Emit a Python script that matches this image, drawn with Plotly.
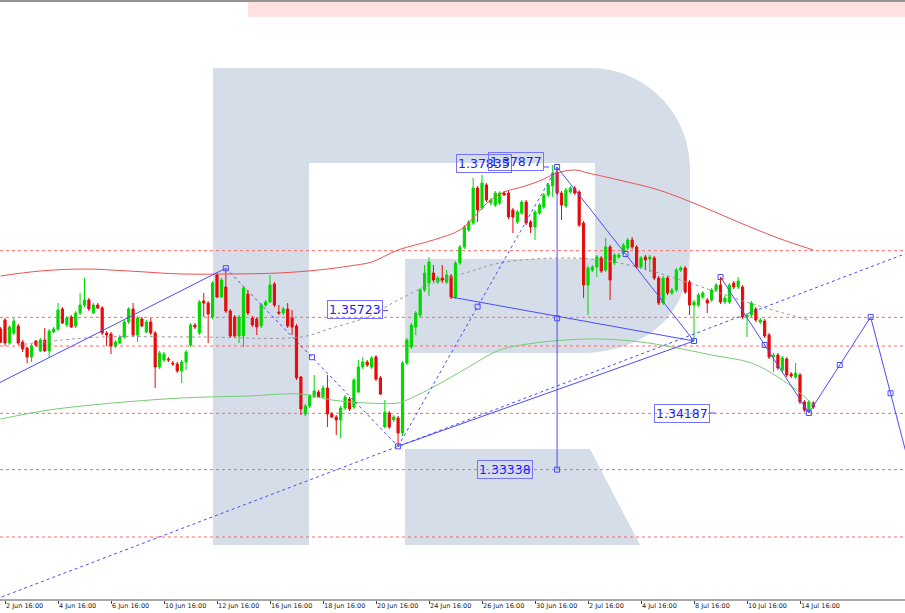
import plotly.graph_objects as go

W, H = 905, 613
MB = 14
PW, PH = W, H - MB

# ---------------- data ----------------
bar_idx = list(range(11, 196))

opens = [1.35447,1.35582,1.35237,1.35387,1.35492,1.35252,1.35162,1.35027,1.35267,1.35117,
1.35282,1.35117,1.35402,1.35447,1.35747,1.35507,1.35627,1.35492,1.35687,1.35807,
1.35882,1.35687,1.35807,1.35762,1.35387,1.35372,1.35192,1.35237,1.35327,1.35552,
1.35747,1.35357,1.35597,1.35402,1.35552,1.35387,1.34877,1.34982,1.34997,1.34937,
1.34922,1.34817,1.34952,1.35207,1.35507,1.35387,1.35867,1.35837,1.35627,1.36257,
1.35927,1.36077,1.35717,1.35627,1.35342,1.35342,1.35972,1.35612,1.35597,1.35492,
1.35807,1.35852,1.36122,1.35702,1.35687,1.35747,1.35612,1.35492,1.34727,1.34172,
1.34292,1.34427,1.34502,1.34427,1.34562,1.34172,1.34127,1.34082,1.34262,1.34397,
1.34277,1.34502,1.34877,1.34952,1.34877,1.35027,1.34712,1.33977,1.34187,1.34082,
1.34112,1.33887,1.34937,1.35177,1.35477,1.35657,1.36032,1.36137,1.36287,1.36152,
1.36212,1.36152,1.36242,1.35927,1.36437,1.36677,1.36932,1.37037,1.37562,1.37262,
1.37607,1.37337,1.37307,1.37337,1.37487,1.37487,1.37232,1.37052,1.37187,1.37352,
1.37052,1.36977,1.37187,1.37277,1.37457,1.37592,1.37802,1.37487,1.37292,1.37502,
1.37562,1.37502,1.37037,1.36107,1.36332,1.36377,1.36512,1.36332,1.36677,1.36437,
1.36527,1.36587,1.36662,1.36782,1.36677,1.36377,1.36527,1.36497,1.36512,1.36212,
1.35837,1.36212,1.35987,1.36032,1.36332,1.36362,1.36152,1.35807,1.35807,1.35927,
1.35882,1.35882,1.36032,1.36107,1.35852,1.35852,1.36137,1.36077,1.36077,1.35627,
1.35657,1.35747,1.35552,1.35567,1.35357,1.35027,1.35057,1.34832,1.34997,1.34772,
1.34727,1.34757,1.34352,1.34202,1.34337]

highs = [1.35477,1.35612,1.35507,1.35612,1.35522,1.35282,1.35177,1.35222,1.35282,1.35312,
1.35462,1.35447,1.35477,1.35837,1.35777,1.35642,1.35657,1.35717,1.35987,1.36212,
1.35912,1.35837,1.35837,1.35792,1.35417,1.35402,1.35282,1.35357,1.35582,1.35777,
1.35837,1.35642,1.35627,1.35582,1.35612,1.35417,1.35117,1.35102,1.35027,1.34967,
1.34952,1.34982,1.35132,1.35537,1.35537,1.35882,1.35987,1.35867,1.36167,1.36287,
1.36212,1.36362,1.35747,1.35657,1.35657,1.36092,1.36032,1.35642,1.35627,1.35837,
1.35882,1.36257,1.36152,1.35807,1.35777,1.35837,1.35732,1.35522,1.34742,1.34322,
1.34472,1.34757,1.34532,1.34607,1.34757,1.34202,1.34157,1.34292,1.34457,1.34427,
1.34712,1.34982,1.35027,1.34982,1.35042,1.35057,1.34742,1.34382,1.34217,1.34157,
1.34142,1.34967,1.35312,1.35537,1.35717,1.36062,1.36407,1.36527,1.36407,1.36242,
1.36407,1.36332,1.36272,1.36467,1.36707,1.37007,1.37082,1.37712,1.37592,1.37757,
1.37637,1.37412,1.37517,1.37517,1.37517,1.37517,1.37262,1.37232,1.37382,1.37382,
1.37082,1.37232,1.37337,1.37487,1.37637,1.37907,1.37877,1.37517,1.37562,1.37592,
1.37592,1.37532,1.37067,1.36392,1.36407,1.36557,1.36542,1.36812,1.36707,1.36587,
1.36587,1.36737,1.36812,1.36827,1.36707,1.36542,1.36557,1.36557,1.36542,1.36242,
1.36242,1.36242,1.36062,1.36362,1.36392,1.36392,1.36182,1.35882,1.35987,1.36017,
1.35912,1.36062,1.36137,1.36227,1.35942,1.36137,1.36167,1.36227,1.36107,1.35687,
1.35867,1.35777,1.35612,1.35597,1.35387,1.35087,1.35087,1.35042,1.35027,1.34802,
1.34937,1.34787,1.34382,1.34382,1.34367]

lows = [1.35237,1.35192,1.35207,1.35357,1.35207,1.35102,1.34937,1.34952,1.35177,1.35102,
1.35102,1.35012,1.35387,1.35417,1.35522,1.35477,1.35462,1.35462,1.35657,1.35777,
1.35717,1.35672,1.35747,1.35357,1.35192,1.35072,1.35162,1.35222,1.35297,1.35522,
1.35327,1.35252,1.35477,1.35387,1.35357,1.34562,1.34847,1.34952,1.34952,1.34892,
1.34787,1.34637,1.34832,1.35177,1.35447,1.35357,1.35627,1.35237,1.35597,1.35912,
1.35912,1.35687,1.35312,1.35312,1.35237,1.35177,1.35657,1.35477,1.35357,1.35462,
1.35777,1.35837,1.35777,1.35657,1.35657,1.35462,1.35357,1.34682,1.34157,1.34142,
1.34262,1.34412,1.34412,1.34412,1.33977,1.34112,1.33857,1.33812,1.34232,1.34217,
1.34247,1.34487,1.34847,1.34877,1.34847,1.34667,1.34457,1.33962,1.33947,1.34052,
1.33687,1.33842,1.34907,1.35147,1.35357,1.35627,1.36002,1.35942,1.36152,1.36122,
1.36137,1.36122,1.35897,1.35897,1.36407,1.36647,1.36902,1.37007,1.37052,1.37232,
1.37352,1.37307,1.37277,1.37307,1.37442,1.37097,1.36887,1.37022,1.37157,1.37007,
1.36887,1.36782,1.37157,1.37247,1.37427,1.37427,1.37457,1.37082,1.37262,1.37472,
1.37457,1.36977,1.35912,1.35657,1.36302,1.36227,1.36287,1.36302,1.35882,1.36407,
1.36497,1.36557,1.36632,1.36647,1.36347,1.36347,1.36332,1.36302,1.36182,1.35807,
1.35807,1.35957,1.35957,1.36002,1.36302,1.35972,1.35657,1.35267,1.35777,1.35897,
1.35687,1.35852,1.36002,1.35822,1.35822,1.35822,1.36047,1.36047,1.35597,1.35327,
1.35627,1.35552,1.35522,1.35312,1.34997,1.34802,1.34832,1.34802,1.34727,1.34712,
1.34697,1.34322,1.34202,1.34187,1.34247]

closes = [1.35252,1.35237,1.35477,1.35567,1.35237,1.35147,1.35027,1.35192,1.35207,1.35282,
1.35117,1.35417,1.35447,1.35732,1.35537,1.35612,1.35477,1.35687,1.35807,1.35882,
1.35747,1.35807,1.35762,1.35387,1.35357,1.35192,1.35252,1.35327,1.35552,1.35747,
1.35357,1.35612,1.35492,1.35552,1.35387,1.34877,1.35087,1.35072,1.34982,1.34922,
1.34817,1.34952,1.35102,1.35507,1.35477,1.35852,1.35837,1.35672,1.36137,1.35927,
1.36182,1.35717,1.35342,1.35342,1.35627,1.36062,1.35687,1.35507,1.35477,1.35807,
1.35852,1.36107,1.35807,1.35687,1.35747,1.35492,1.35477,1.34712,1.34247,1.34292,
1.34442,1.34517,1.34427,1.34562,1.34172,1.34127,1.34082,1.34262,1.34427,1.34247,
1.34682,1.34877,1.34952,1.34907,1.35012,1.34697,1.34472,1.34202,1.33977,1.34127,
1.33887,1.34937,1.35282,1.35507,1.35687,1.36032,1.36287,1.36452,1.36182,1.36212,
1.36182,1.36257,1.35927,1.36437,1.36677,1.36977,1.37052,1.37562,1.37232,1.37637,
1.37382,1.37382,1.37487,1.37487,1.37457,1.37127,1.37127,1.37202,1.37352,1.37037,
1.36977,1.37202,1.37307,1.37457,1.37607,1.37787,1.37487,1.37307,1.37532,1.37562,
1.37487,1.37007,1.36107,1.36362,1.36377,1.36527,1.36317,1.36677,1.36182,1.36557,
1.36557,1.36707,1.36782,1.36677,1.36377,1.36512,1.36482,1.36527,1.36212,1.35837,
1.36212,1.35987,1.36032,1.36332,1.36362,1.36002,1.35807,1.35852,1.35957,1.35987,
1.35837,1.36032,1.36107,1.35852,1.35912,1.36107,1.36077,1.36167,1.35627,1.35657,
1.35837,1.35582,1.35582,1.35342,1.35027,1.35057,1.34862,1.35012,1.34757,1.34742,
1.34787,1.34352,1.34232,1.34352,1.34277]

tick_idx = list(range(12, 193, 12))
tick_labels = ["2 Jun 16:00", "4 Jun 16:00", "6 Jun 16:00", "10 Jun 16:00", "12 Jun 16:00",
               "16 Jun 16:00", "18 Jun 16:00", "20 Jun 16:00", "24 Jun 16:00", "26 Jun 16:00",
               "30 Jun 16:00", "2 Jul 16:00", "4 Jul 16:00", "8 Jul 16:00", "10 Jul 16:00",
               "14 Jul 16:00"]

red_ma_x = [11, 20, 30, 40, 52, 63, 74, 83, 90, 95, 101, 109, 115, 118, 120, 122, 125, 129, 133,
            137, 141, 144, 151, 160, 169, 178, 187, 195]
red_ma_y = [1.36242, 1.36317, 1.36347, 1.36317, 1.36272, 1.36272, 1.36287, 1.36332, 1.36392,
            1.36452, 1.36632, 1.36782, 1.36932, 1.37112, 1.37262, 1.37382, 1.37502, 1.37577,
            1.37667, 1.37787, 1.37832, 1.37787, 1.37682, 1.37532, 1.37307, 1.37052, 1.36812, 1.36632]

green_ma_x = [11, 22, 34, 52, 67, 79, 86, 94, 101, 103, 109, 117, 124, 132, 139, 147, 156, 163,
              172, 181, 187, 192, 195]
green_ma_y = [1.34097, 1.34232, 1.34322, 1.34412, 1.34442, 1.34472, 1.34382, 1.34337, 1.34337,
              1.34382, 1.34577, 1.34877, 1.35132, 1.35237, 1.35282, 1.35297, 1.35252, 1.35177,
              1.35057, 1.34937, 1.34727, 1.34487, 1.34307]

gray_ma_x = [15, 25, 34, 56, 79, 86, 94, 101, 109, 117, 124, 132, 139, 147, 156, 167, 182, 194]
gray_ma_y = [1.35207, 1.35282, 1.35327, 1.35327, 1.35327, 1.35462, 1.35627, 1.35882, 1.36137,
             1.36302, 1.36437, 1.36497, 1.36512, 1.36482, 1.36362, 1.36137, 1.35807, 1.35582]

levels = [1.36622, 1.35622, 1.35192, 1.34182, 1.33338, 1.32327]

# zigzag pivots and projection
piv_x = [62, 101, 137, 137, 168, 174, 194, 208, 217]
piv_y = [1.36360, 1.33687, 1.37877, 1.33338, 1.35267, 1.36227, 1.34187, 1.35627, 1.33338]
# (from, to, dotted, midpoint marker)
segments = [(0, 1, True, True), (1, 2, True, True), (2, 3, False, True), (2, 4, False, True),
            (1, 4, False, False), (5, 6, False, True), (6, 7, False, True), (7, 8, False, True)]

trend1_x = [0, 62]
trend1_y = [1.34280, 1.36360]
trend2_x = [113, 168]
trend2_y = [1.35927, 1.35267]
trend3_x = [10, 216]
trend3_y = [1.31397, 1.36580]

label_text = ["1.37835", "1.37877", "1.35723", "1.34187", "1.33338"]
label_val = [1.37835, 1.37877, 1.35723, 1.34187, 1.33338]

# ---------------- style ----------------
GREEN = "#00d800"
RED = "#e60b0b"
BLUE = "#4b4bff"
WM = "#d4dde8"

XR = [12 - 5 * 12 / 53, 12 + 900 * 12 / 53]
YR = [1.40382 - 0.00015 * PH, 1.40382]


def bx(px):
    return 12 + (px - 5) * 12 / 53


def P(px, py):
    return f"{px / PW:.5f},{1 - py / PH:.5f}"


fig = go.Figure()

fig.add_trace(go.Candlestick(
    x=bar_idx, open=opens, high=highs, low=lows, close=closes,
    increasing=dict(line=dict(color=GREEN, width=1), fillcolor=GREEN),
    decreasing=dict(line=dict(color=RED, width=1), fillcolor=RED),
    whiskerwidth=0, showlegend=False, hoverinfo="skip"))

fig.add_trace(go.Scatter(x=red_ma_x, y=red_ma_y, mode="lines",
                         line=dict(color="#f05050", width=1, shape="spline"),
                         showlegend=False, hoverinfo="skip"))
fig.add_trace(go.Scatter(x=green_ma_x, y=green_ma_y, mode="lines",
                         line=dict(color="#77cc77", width=1, shape="spline"),
                         showlegend=False, hoverinfo="skip"))
fig.add_trace(go.Scatter(x=gray_ma_x, y=gray_ma_y, mode="lines",
                         line=dict(color="#999999", width=1, dash="dot", shape="spline"),
                         showlegend=False, hoverinfo="skip"))

for tx, ty, d in [(trend1_x, trend1_y, None), (trend2_x, trend2_y, None), (trend3_x, trend3_y, "dot")]:
    fig.add_trace(go.Scatter(x=tx, y=ty, mode="lines",
                             line=dict(color=BLUE, width=1, dash=d),
                             showlegend=False, hoverinfo="skip"))

mid_x, mid_y = [], []
for a, b, dotted, mid in segments:
    fig.add_trace(go.Scatter(x=[piv_x[a], piv_x[b]], y=[piv_y[a], piv_y[b]], mode="lines",
                             line=dict(color=BLUE, width=1, dash="dot" if dotted else None),
                             showlegend=False, hoverinfo="skip"))
    if mid:
        mid_x.append((piv_x[a] + piv_x[b]) / 2)
        mid_y.append((piv_y[a] + piv_y[b]) / 2)

fig.add_trace(go.Scatter(x=piv_x[:-1] + mid_x, y=piv_y[:-1] + mid_y, mode="markers",
                         marker=dict(symbol="square-open", size=5, color=BLUE,
                                     line=dict(width=1, color=BLUE)),
                         showlegend=False, hoverinfo="skip"))

shapes = []
# watermark "R"
r_path = ("M" + P(213, 68) + " L" + P(590, 68) + " C" + P(645, 68) + " " + P(690, 113) + " " + P(690, 168)
          + " L" + P(690, 250) + " C" + P(690, 320) + " " + P(640, 353) + " " + P(580, 353)
          + " L" + P(405, 353) + " L" + P(405, 259) + " L" + P(595, 259) + " L" + P(595, 163)
          + " L" + P(309, 163) + " L" + P(309, 545) + " L" + P(213, 545) + " Z")
leg_path = "M" + P(405, 449) + " L" + P(590, 449) + " L" + P(640, 545) + " L" + P(405, 545) + " Z"
for pth in (r_path, leg_path):
    shapes.append(dict(type="path", path=pth, xref="paper", yref="paper",
                       fillcolor=WM, line=dict(width=0), layer="below"))

for lv in levels:
    shapes.append(dict(type="line", xref="paper", x0=0, x1=1, yref="y", y0=lv, y1=lv,
                       line=dict(color="#ff6a6a", width=1, dash="dot"), layer="below"))

# top strip
shapes.append(dict(type="rect", xref="paper", yref="paper", x0=248 / PW, x1=1,
                   y0=1 - 17 / PH, y1=1 - 2 / PH, fillcolor="#ffe2df", line=dict(width=0), layer="below"))
shapes.append(dict(type="line", xref="paper", yref="paper", x0=0, x1=1,
                   y0=1 - 1 / PH, y1=1 - 1 / PH, line=dict(color="#707070", width=1.5)))

annotations = []
label_right_px = [511.5, 544, 383, 710, 533]
label_shift = [6, 6, 1, 0, 0]
for t, v, rpx, ys in zip(label_text, label_val, label_right_px, label_shift):
    annotations.append(dict(x=bx(rpx), y=v, xref="x", yref="y", text=t, showarrow=False,
                            xanchor="right", yanchor="middle", yshift=ys,
                            font=dict(family="DejaVu Sans", size=12.5, color="#1c1cff"),
                            bordercolor="#7474ff", borderwidth=1, borderpad=1))
    if t != "1.33338" and t != "1.37835":
        shapes.append(dict(type="line", xref="x", yref="y", x0=bx(rpx), x1=bx(rpx + 5),
                           y0=v, y1=v, line=dict(color=BLUE, width=1)))

for ti, tl in zip(tick_idx, tick_labels):
    annotations.append(dict(x=ti, y=0, xref="x", yref="paper", text=tl, showarrow=False,
                            xanchor="left", yanchor="middle", yshift=-7, xshift=-1,
                            font=dict(family="DejaVu Sans", size=6.5, color="#222222")))

fig.update_layout(
    width=W, height=H,
    margin=dict(l=0, r=0, t=0, b=MB, pad=0),
    paper_bgcolor="white", plot_bgcolor="white",
    showlegend=False,
    shapes=shapes, annotations=annotations,
    xaxis=dict(range=XR, showgrid=False, zeroline=False, showline=True, linecolor="#a8a8a8",
               linewidth=2, tickvals=tick_idx, ticktext=[""] * len(tick_idx), ticks="outside",
               ticklen=3, tickcolor="#444444", tickwidth=1, rangeslider=dict(visible=False),
               fixedrange=True),
    yaxis=dict(range=YR, visible=False, showgrid=False, zeroline=False, fixedrange=True),
)

fig.write_html("out.html", config={"displayModeBar": False},
               post_script="document.body.style.margin='0px';document.body.style.overflow='hidden';")
